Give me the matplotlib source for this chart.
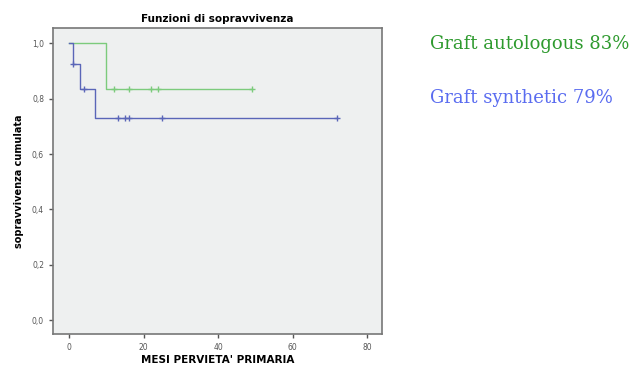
import matplotlib.pyplot as plt

# Kaplan-Meier steps (months, survival) and censored observations
auto_t = [0, 10, 49]
auto_s = [1.0, 0.833, 0.833]
auto_cens_t = [12, 16, 22, 24, 49]
auto_cens_s = [0.833, 0.833, 0.833, 0.833, 0.833]

synt_t = [0, 1, 3, 7, 72]
synt_s = [1.0, 0.923, 0.835, 0.731, 0.731]
synt_cens_t = [1, 4, 13, 15, 16, 25, 72]
synt_cens_s = [0.923, 0.835, 0.731, 0.731, 0.731, 0.731, 0.731]

y_ticks = [0.0, 0.2, 0.4, 0.6, 0.8, 1.0]
y_labels = ['0,0', '0,2', '0,4', '0,6', '0,8', '1,0']
x_ticks = [0, 20, 40, 60, 80]

green = '#7ccb7c'
blue = '#5a66b8'

fig = plt.figure(figsize=(6.32, 3.67), dpi=100)
ax = fig.add_axes([0.084, 0.09, 0.521, 0.834])
ax.set_facecolor('#eef0f0')

ax.step(auto_t, auto_s, where='post', color=green, lw=1)
ax.plot(auto_cens_t, auto_cens_s, ls='none', marker='+', ms=4, mew=1, color=green)
ax.step(synt_t, synt_s, where='post', color=blue, lw=1)
ax.plot(synt_cens_t, synt_cens_s, ls='none', marker='+', ms=4, mew=1, color=blue)

ax.set_xlim(-4.3, 84.1)
ax.set_ylim(-0.049, 1.055)
ax.set_yticks(y_ticks)
ax.set_yticklabels(y_labels)
ax.set_xticks(x_ticks)
ax.tick_params(labelsize=5.5, labelcolor='#555555', length=3, width=1, color='#555555')
for s in ax.spines.values():
    s.set_color('#777777')
    s.set_linewidth(1.2)

ax.set_title('Funzioni di sopravvivenza', fontsize=7.5, fontweight='bold', pad=4)
ax.set_xlabel("MESI PERVIETA' PRIMARIA", fontsize=7.5, fontweight='bold', labelpad=2)
ax.set_ylabel('sopravvivenza cumulata', fontsize=7, fontweight='bold', labelpad=6)

fig.text(0.68, 0.88, 'Graft autologous 83%', color='#2e9a2e', fontsize=13,
         family='DejaVu Serif', va='center')
fig.text(0.68, 0.733, 'Graft synthetic 79%', color='#5a6cf0', fontsize=13,
         family='DejaVu Serif', va='center')

fig.savefig('out.png', dpi=100)
